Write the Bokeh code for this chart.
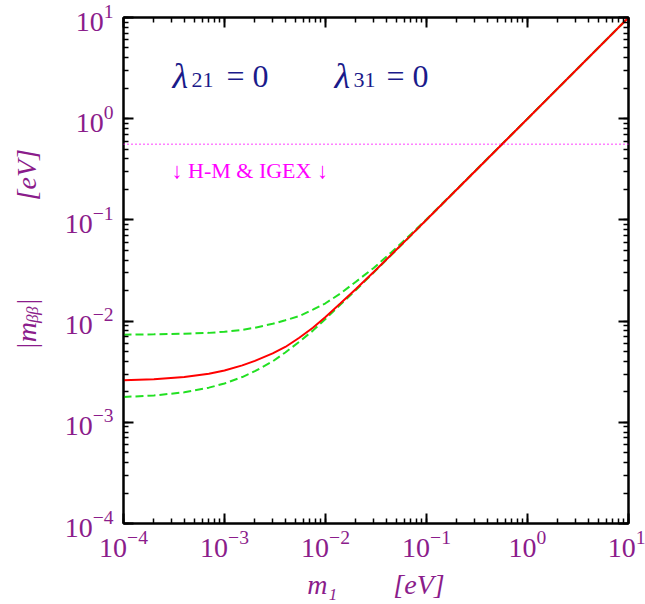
import math
from bokeh.plotting import figure
from bokeh.models import (LogAxis, LogTicker, Label, Span, CustomJSTickFormatter,
                          ColumnDataSource)
from bokeh.embed import file_html
from bokeh.resources import INLINE

# ---------------- data ----------------
m1 = [1e-4, 2e-4, 4e-4, 7e-4, 1e-3, 1.5e-3, 2e-3, 3e-3, 4e-3, 5.5e-3, 7.5e-3,
      1e-2, 1.4e-2, 2e-2, 3e-2, 4.5e-2, 7e-2, 1e-1, 1.0, 10.0]
mbb_central = [2.60e-3, 2.66e-3, 2.80e-3, 3.02e-3, 3.25e-3, 3.65e-3, 4.05e-3, 4.8e-3,
               5.55e-3, 6.85e-3, 8.6e-3, 1.1e-2, 1.49e-2, 2.08e-2, 3.06e-2, 4.55e-2,
               7.03e-2, 0.1003, 1.0, 10.0]
mbb_upper = [7.35e-3, 7.4e-3, 7.5e-3, 7.65e-3, 7.85e-3, 8.2e-3, 8.6e-3, 9.4e-3,
             1.02e-2, 1.12e-2, 1.3e-2, 1.5e-2, 1.87e-2, 2.45e-2, 3.35e-2, 4.8e-2,
             7.2e-2, 0.1015, 1.0, 10.0]
mbb_lower = [1.78e-3, 1.84e-3, 1.98e-3, 2.2e-3, 2.42e-3, 2.8e-3, 3.2e-3, 4.0e-3,
             4.9e-3, 6.25e-3, 8.05e-3, 1.05e-2, 1.45e-2, 2.03e-2, 3.02e-2, 4.51e-2,
             7.0e-2, 0.1, 1.0, 10.0]
hm_igex_bound = 0.56
x_limits = (1e-4, 10.0)
y_limits = (1e-4, 10.0)

NB = "\u00a0"
x_title = "m₁" + NB * 8 + "[eV]"
y_title = NB * 6 + "|mᵦᵦ|" + NB * 14 + "[eV]"

# ---------------- styling ----------------
PURPLE = "#8B1C8B"
NAVY = "#1A1A8A"
MAGENTA = "#FF00FF"
RED = "#FF0000"
GREEN = "#22E022"
SERIF = "Liberation Serif"

W, H = 645, 604
L, R, T, B = 123, 628, 17, 523

p = figure(width=W, height=H, x_axis_type="log", y_axis_type="log",
           x_range=x_limits, y_range=y_limits,
           output_backend="svg", toolbar_location=None,
           min_border_left=L, min_border_right=W - R,
           min_border_top=T, min_border_bottom=H - B)
p.xgrid.visible = False
p.ygrid.visible = False
p.outline_line_color = "black"
p.outline_line_width = 2
p.background_fill_color = "white"
p.border_fill_color = "white"

def style_axis(ax, labels=True, standoff=8):
    ax.ticker = LogTicker(num_minor_ticks=10)
    ax.axis_line_color = "black"
    ax.axis_line_width = 2
    ax.major_tick_in = 10
    ax.major_tick_out = 0
    ax.minor_tick_in = 5
    ax.minor_tick_out = 0
    ax.major_tick_line_width = 2
    ax.minor_tick_line_width = 1.5
    ax.major_tick_line_color = "black"
    ax.minor_tick_line_color = "black"
    if labels:
        ax.major_label_text_font = SERIF
        ax.major_label_text_font_size = "28px"
        ax.major_label_text_color = PURPLE
        ax.major_label_standoff = standoff
        ax.axis_label_text_font = SERIF
        ax.axis_label_text_font_size = "28px"
        ax.axis_label_text_font_style = "italic"
        ax.axis_label_text_color = PURPLE
    else:
        ax.axis_label = None
        ax.formatter = CustomJSTickFormatter(code="return ''")
        ax.major_label_standoff = 0

style_axis(p.xaxis[0], True, 7)
style_axis(p.yaxis[0], True, 10)
p.xaxis[0].axis_label = x_title
p.xaxis[0].axis_label_standoff = 9
p.yaxis[0].axis_label = y_title
p.yaxis[0].axis_label_standoff = 20
top_ax = LogAxis()
right_ax = LogAxis()
style_axis(top_ax, False)
style_axis(right_ax, False)
p.add_layout(top_ax, "above")
p.add_layout(right_ax, "right")

# ---------------- curves ----------------
src = ColumnDataSource(dict(m1=m1, c=mbb_central, u=mbb_upper, l=mbb_lower))
p.line("m1", "u", source=src, line_color=GREEN, line_width=2, line_dash="8 4")
p.line("m1", "l", source=src, line_color=GREEN, line_width=2, line_dash="8 4")
p.line("m1", "c", source=src, line_color=RED, line_width=2)

p.add_layout(Span(location=hm_igex_bound, dimension="width", line_color=MAGENTA,
                  line_width=1.5, line_dash="1 3"))

# ---------------- texts ----------------
LX0, LX1 = math.log10(x_limits[0]), math.log10(x_limits[1])
LY0, LY1 = math.log10(y_limits[0]), math.log10(y_limits[1])

def xd(px):
    return 10 ** (LX0 + (px - L) / (R - L) * (LX1 - LX0))

def yd(py):
    return 10 ** (LY0 + (B - py) / (B - T) * (LY1 - LY0))

def lab(text, px, py, size, color, style="normal", angle=0.0):
    p.add_layout(Label(x=xd(px), y=yd(py), x_units="data", y_units="data",
                       text=text, text_font=SERIF, text_font_size=f"{size}px",
                       text_font_style=style, text_color=color,
                       text_align="left", text_baseline="alphabetic",
                       angle=angle))

# lambda annotations
lab("λ", 172, 75, 36, NAVY, "italic")
lab("21", 191, 79, 22, NAVY)
lab("= 0", 226, 75, 32, NAVY)
lab("λ", 334, 75, 36, NAVY, "italic")
lab("31", 353, 79, 22, NAVY)
lab("= 0", 386, 75, 32, NAVY)

# bound label
lab("↓ H-M & IGEX ↓", 171, 170, 22, MAGENTA)

open("out.html", "w").write(file_html(p, INLINE))
